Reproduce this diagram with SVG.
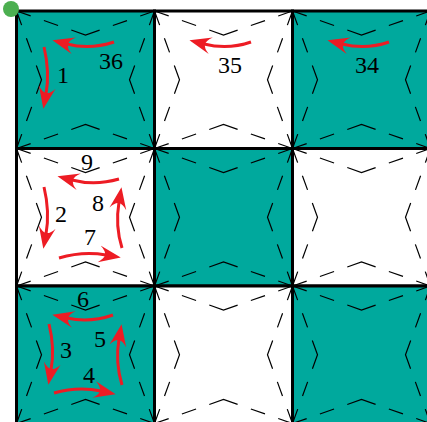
<svg xmlns="http://www.w3.org/2000/svg" xmlns:xlink="http://www.w3.org/1999/xlink" width="427" height="422" viewBox="0 0 427 422">
<style>
.t{fill:#00a99d}.w{fill:#fff}
.b{stroke:#000;stroke-width:3}
.d{fill:none;stroke:#000;stroke-width:1.2;stroke-dasharray:15 14 15 14 30 14 15 14 15}
.a{fill:none;stroke:#ed1c24;stroke-width:3;marker-end:url(#h)}
text{font-family:"Liberation Serif",serif;font-size:24px;fill:#000;text-anchor:middle}
</style>
<defs>
<marker id="h" markerUnits="userSpaceOnUse" markerWidth="28" markerHeight="20" viewBox="0 -10 28 20" refX="7" refY="0" orient="auto">
<path d="M0,-8.5 L22,0 L0,8.5 Q6,4 6,0 Q6,-4 0,-8.5Z" fill="#ed1c24"/>
</marker>
<g id="s">
<path class="d" d="M0 0L69 24L138 0"/>
<path class="d" d="M138 0L113 68.75L138 137.5"/>
<path class="d" d="M0 137.5L69 113.5L138 137.5"/>
<path class="d" d="M0 0L25 68.75L0 137.5"/>
</g>
</defs>
<rect width="427" height="422" fill="#fff"/>
<g id="cell-1-1"><rect class="t b" x="16.5" y="11" width="138" height="137.5"/><use xlink:href="#s" href="#s" x="16.5" y="11"/><text x="63" y="83">1</text><text x="111" y="69">36</text></g>
<g id="cell-1-2"><rect class="w b" x="154.5" y="11" width="138" height="137.5"/><use xlink:href="#s" href="#s" x="154.5" y="11"/><text x="230" y="73">35</text></g>
<g id="cell-1-3"><rect class="t b" x="292.5" y="11" width="138" height="137.5"/><use xlink:href="#s" href="#s" x="292.5" y="11"/><text x="367" y="73">34</text></g>
<g id="cell-2-1"><rect class="w b" x="16.5" y="148.5" width="138" height="137.5"/><use xlink:href="#s" href="#s" x="16.5" y="148.5"/><text x="87" y="170">9</text><text x="98" y="211">8</text><text x="61" y="222">2</text><text x="90" y="245">7</text></g>
<g id="cell-2-2"><rect class="t b" x="154.5" y="148.5" width="138" height="137.5"/><use xlink:href="#s" href="#s" x="154.5" y="148.5"/></g>
<g id="cell-2-3"><rect class="w b" x="292.5" y="148.5" width="138" height="137.5"/><use xlink:href="#s" href="#s" x="292.5" y="148.5"/></g>
<g id="cell-3-1"><rect class="t b" x="16.5" y="286" width="138" height="137.5"/><use xlink:href="#s" href="#s" x="16.5" y="286"/><text x="83" y="307">6</text><text x="100" y="347">5</text><text x="66" y="358">3</text><text x="89" y="383">4</text></g>
<g id="cell-3-2"><rect class="w b" x="154.5" y="286" width="138" height="137.5"/><use xlink:href="#s" href="#s" x="154.5" y="286"/></g>
<g id="cell-3-3"><rect class="t b" x="292.5" y="286" width="138" height="137.5"/><use xlink:href="#s" href="#s" x="292.5" y="286"/></g>
<g id="connectors">
<path class="a" d="M114 42Q90 50 67 44"/>
<path class="a" d="M44 47Q50 72 46 94"/>
<path class="a" d="M251 42Q228 50 204 44"/>
<path class="a" d="M389 42Q366 50 342 44"/>
<path class="a" d="M119 179Q95 186 72 180"/>
<path class="a" d="M44 187Q50 212 46 234"/>
<path class="a" d="M59 258Q83 251 106 255"/>
<path class="a" d="M122 248Q115 226 119 202"/>
<path class="a" d="M113 315Q90 323 67 318"/>
<path class="a" d="M49 324Q55 348 51 370"/>
<path class="a" d="M54 393Q78 386 101 391"/>
<path class="a" d="M122 385Q115 362 119 339"/>
</g>
<circle id="origin" cx="11" cy="9" r="8" fill="#4caf50"/>
</svg>
